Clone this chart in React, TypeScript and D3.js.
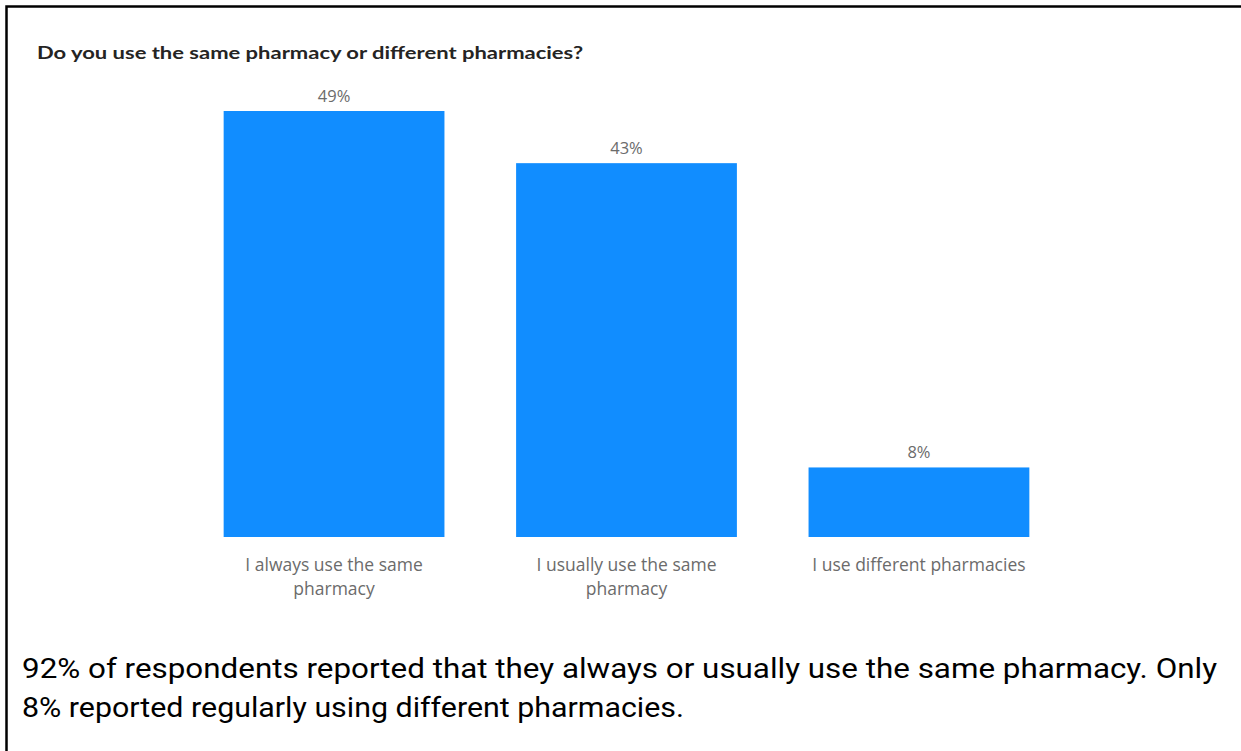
import { useEffect, useRef } from "react";
import * as d3 from "d3";

const W = 1241;
const H = 751;

const title = "Do you use the same pharmacy or different pharmacies?";
const categories = [
  ["I always use the same", "pharmacy"],
  ["I usually use the same", "pharmacy"],
  ["I use different pharmacies"],
];
const values = [49, 43, 8];
const summary = [
  "92% of respondents reported that they always or usually use the same pharmacy.  Only",
  "8% reported regularly using different pharmacies.",
];

export default function App() {
  const ref = useRef<SVGSVGElement>(null);

  useEffect(() => {
    if (!ref.current) return;
    const svg = d3.select(ref.current);
    svg.selectAll("*").remove();

    svg.append("rect").attr("width", W).attr("height", H).attr("fill", "#fff");

    // cell border (top and left)
    svg
      .append("path")
      .attr("d", `M${W},6.5H6.5V${H}`)
      .attr("fill", "none")
      .attr("stroke", "#000")
      .attr("stroke-width", 2.5);

    svg
      .append("text")
      .attr("x", 37)
      .attr("y", 59)
      .attr("font-family", "Lato, sans-serif")
      .attr("font-weight", 700)
      .attr("font-size", 16.5)
      .attr("fill", "#252423")
      .attr("textLength", 546)
      .attr("lengthAdjust", "spacingAndGlyphs")
      .text(title);

    const idx = d3.range(values.length);
    const x = d3.scaleBand<number>().domain(idx).range([152, 1101]).paddingInner(0.245).paddingOuter(0.245);
    const y = d3.scaleLinear().domain([0, 49]).range([537, 111]);

    svg
      .selectAll("rect.bar")
      .data(idx)
      .join("rect")
      .attr("class", "bar")
      .attr("x", (i) => x(i)!)
      .attr("y", (i) => y(values[i]))
      .attr("width", x.bandwidth())
      .attr("height", (i) => y(0) - y(values[i]))
      .attr("fill", "#118DFF");

    svg
      .selectAll("text.val")
      .data(idx)
      .join("text")
      .attr("class", "val")
      .attr("x", (i) => x(i)! + x.bandwidth() / 2)
      .attr("y", (i) => y(values[i]) - 9)
      .attr("text-anchor", "middle")
      .attr("font-family", "'Open Sans', sans-serif")
      .attr("font-size", 16.5)
      .attr("fill", "#6b6b6b")
      .text((i) => `${values[i]}%`);

    const lab = svg
      .selectAll("text.cat")
      .data(idx)
      .join("text")
      .attr("class", "cat")
      .attr("text-anchor", "middle")
      .attr("font-family", "'Open Sans', sans-serif")
      .attr("font-size", 17.5)
      .attr("fill", "#6b6b6b");
    lab
      .selectAll("tspan")
      .data((i) => categories[i].map((t) => ({ t, i })))
      .join("tspan")
      .attr("x", (d) => x(d.i)! + x.bandwidth() / 2)
      .attr("y", (_, j) => 571 + j * 24)
      .text((d) => d.t);

    svg
      .selectAll("text.sum")
      .data(summary)
      .join("text")
      .attr("class", "sum")
      .attr("x", 22)
      .attr("y", (_, j) => 678 + j * 39)
      .attr("font-family", "Roboto, sans-serif")
      .attr("font-size", 28)
      .attr("fill", "#000")
      .attr("textLength", (_, j) => (j === 0 ? 1195 : 662))
      .attr("lengthAdjust", "spacingAndGlyphs")
      .text((d) => d);
  }, []);

  return (
    <svg
      ref={ref}
      width={W}
      height={H}
      style={{ position: "absolute", left: 0, top: 0, display: "block" }}
    />
  );
}
